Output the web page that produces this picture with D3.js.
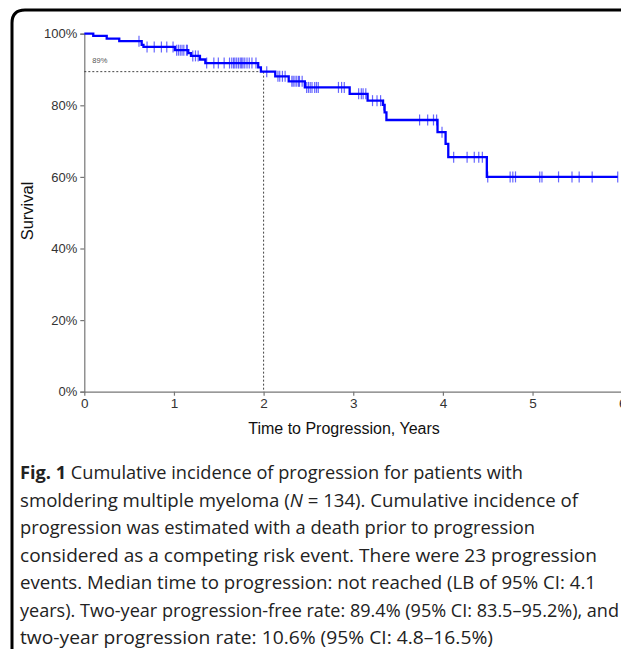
<!DOCTYPE html>
<html><head><meta charset="utf-8">
<script src="https://cdn.jsdelivr.net/npm/d3@7"></script>
<style>body{margin:0;background:#fff;}svg{display:block;}</style>
</head><body>
<svg id="c" width="621" height="649"></svg>
<script>
// ---- data ----
const eventTimes = [0.10,0.25,0.39,0.64,0.66,1.01,1.16,1.19,1.29,1.35,1.94,1.97,2.13,2.28,2.46,2.96,3.16,3.33,3.35,3.37,3.94,4.03,4.06,4.49];
const eventSurvival = [99.4,98.6,97.9,96.9,96.3,95.4,94.6,93.8,92.8,91.8,90.6,89.4,88.1,86.7,85.0,83.2,81.3,80.1,78.0,75.9,72.5,69.2,65.5,60.0];
const censorTimes = [0.61,0.70,0.78,0.86,0.92,0.99,1.03,1.05,1.07,1.09,1.11,1.14,1.15,1.21,1.24,1.27,1.365,1.445,1.495,1.56,1.62,1.645,1.665,1.68,1.70,1.72,1.74,1.755,1.77,1.79,1.815,1.84,1.87,1.915,2.035,2.16,2.18,2.21,2.24,2.315,2.33,2.35,2.37,2.39,2.40,2.43,2.48,2.50,2.52,2.54,2.57,2.59,2.61,2.835,2.87,2.90,3.06,3.09,3.11,3.14,3.215,3.265,3.305,3.34,3.74,3.83,3.895,3.93,3.99,4.12,4.27,4.35,4.40,4.44,4.50,4.75,4.78,4.81,5.08,5.105,5.29,5.44,5.52,5.665,5.95];
const xTicks = [0,1,2,3,4,5,6];
const yTicks = [0,20,40,60,80,100];
const refTime = 2, refSurvival = 89.4, refLabel = "89%";
const xTitle = "Time to Progression, Years";
const yTitle = "Survival";
const captionLines = [
  [{t:"Fig. 1",b:1},{t:" Cumulative incidence of progression for patients with"}],
  [{t:"smoldering multiple myeloma ("},{t:"N",i:1},{t:" = 134). Cumulative incidence of"}],
  [{t:"progression was estimated with a death prior to progression"}],
  [{t:"considered as a competing risk event. There were 23 progression"}],
  [{t:"events. Median time to progression: not reached (LB of 95% CI: 4.1"}],
  [{t:"years). Two-year progression-free rate: 89.4% (95% CI: 83.5\u201395.2%), and"}],
  [{t:"two-year progression rate: 10.6% (95% CI: 4.8\u201316.5%)"}]
];
const captionWidths = [503,558,515,577,576,599,473];

// ---- drawing ----
const svg = d3.select("#c");
// frame
svg.append("path")
  .attr("d","M12,700 L12,23 Q12,10 25,10 L640,10")
  .attr("fill","none").attr("stroke","#000").attr("stroke-width",3);

const x = d3.scaleLinear().domain([0,6]).range([84.3,622.2]);
const y = d3.scaleLinear().domain([0,100]).range([391.7,33.7]);
const font = "'Liberation Sans', Arial, sans-serif";

const yAxis = svg.append("g").attr("transform","translate(84.3,0)")
  .call(d3.axisLeft(y).tickValues(yTicks).tickFormat(d=>d+"%").tickSize(4).tickPadding(3));
const xAxis = svg.append("g").attr("transform","translate(0,391.7)")
  .call(d3.axisBottom(x).tickValues(xTicks).tickFormat(d3.format("d")).tickSize(4).tickPadding(3));
[yAxis,xAxis].forEach(a=>{
  a.attr("font-size",13).attr("font-family",font);
  a.selectAll("path,line").attr("stroke","#777").attr("stroke-width",1.2);
  a.selectAll("text").attr("font-family",font).attr("font-size",13).attr("fill","#333");
});
xAxis.selectAll("text").attr("font-size",13.5);
xAxis.select(".domain").attr("d","M84.3,0.5H640");

// reference dotted lines
svg.append("line").attr("x1",x(0)).attr("x2",x(refTime)).attr("y1",y(refSurvival)).attr("y2",y(refSurvival))
  .attr("stroke","#444").attr("stroke-width",1).attr("stroke-dasharray","2,2");
svg.append("line").attr("x1",x(refTime)).attr("x2",x(refTime)).attr("y1",y(refSurvival)).attr("y2",y(0))
  .attr("stroke","#444").attr("stroke-width",1).attr("stroke-dasharray","2,2");
svg.append("text").attr("x",x(0)+8).attr("y",y(refSurvival)-9).text(refLabel)
  .attr("font-family",font).attr("font-size",7.5).attr("fill","#555");

// KM curve
function survAt(t){let s=100;for(let i=0;i<eventTimes.length;i++){if(eventTimes[i]<=t)s=eventSurvival[i];}return s;}
const pts=[[0,100]];
eventTimes.forEach((t,i)=>pts.push([t,eventSurvival[i]]));
pts.push([censorTimes[censorTimes.length-1],survAt(censorTimes[censorTimes.length-1])]);
svg.append("path").datum(pts)
  .attr("d",d3.line().x(d=>x(d[0])).y(d=>y(d[1])).curve(d3.curveStepAfter))
  .attr("fill","none").attr("stroke","#0000ff").attr("stroke-width",2.3);
svg.append("g").selectAll("line").data(censorTimes).join("line")
  .attr("x1",d=>x(d)).attr("x2",d=>x(d))
  .attr("y1",d=>y(survAt(d))-5.5).attr("y2",d=>y(survAt(d))+5.5)
  .attr("stroke","#0000ff").attr("stroke-opacity",0.6).attr("stroke-width",1.2);

// axis titles
svg.append("text").attr("x",344).attr("y",434).attr("text-anchor","middle")
  .attr("font-family",font).attr("font-size",16).attr("fill","#111").text(xTitle);
svg.append("text").attr("transform","translate(33,211) rotate(-90)").attr("text-anchor","middle")
  .attr("font-family",font).attr("font-size",16.5).attr("fill","#111").text(yTitle);

// caption
const capFont = "'Open Sans','Noto Sans',sans-serif";
captionLines.forEach((line,i)=>{
  const t = svg.append("text").attr("x",20).attr("y",479+i*27.5)
    .attr("font-family",capFont).attr("font-size",17.5).attr("fill","#222")
    .attr("textLength",captionWidths[i]).attr("lengthAdjust","spacingAndGlyphs");
  line.forEach(p=>{
    const s=t.append("tspan").text(p.t);
    if(p.b) s.attr("font-weight","bold");
    if(p.i) s.attr("font-style","italic");
  });
});
</script>
</body></html>
